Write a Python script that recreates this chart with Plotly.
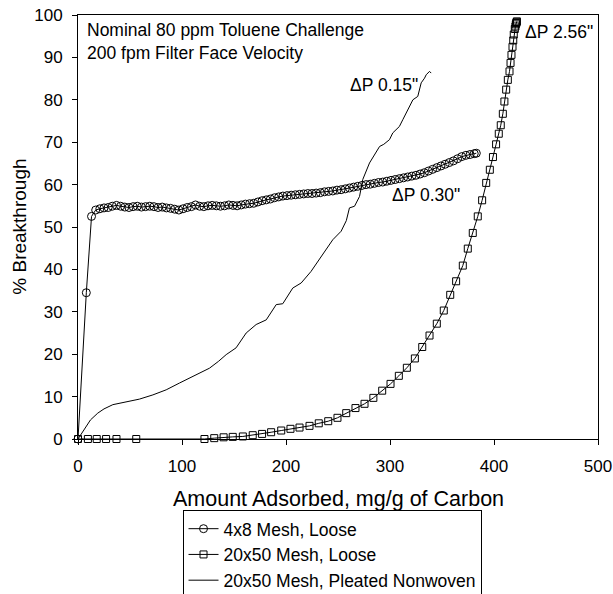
import plotly.graph_objects as go

# 4x8 Mesh, Loose (open circles)
mesh4x8_x = [0, 8, 13, 17, 21, 25, 29, 33, 37, 41, 45, 49, 53, 57, 61, 65, 69, 73, 77, 81, 85,
             89, 93, 97, 101, 105, 109, 113, 117, 121, 125, 129, 133, 137, 141, 145, 149, 153,
             157, 161, 165, 169, 173, 177, 181, 185, 189, 193, 197, 201, 205, 209, 213, 217,
             221, 225, 229, 233, 237, 241, 245, 249, 253, 257, 261, 265, 269, 273, 277, 281,
             285, 289, 293, 297, 301, 305, 309, 313, 317, 321, 325, 329, 333, 337, 341, 345,
             349, 353, 357, 361, 365, 369, 373, 377, 381, 383]
mesh4x8_y = [0, 34.5, 52.5, 54.0, 54.3, 54.5, 54.6, 54.9, 55.1, 54.9, 54.7, 54.6, 54.8, 54.9,
             54.7, 54.8, 54.9, 54.8, 54.6, 54.7, 54.5, 54.4, 54.2, 54.0, 54.3, 54.6, 54.8, 55.2,
             54.9, 54.8, 55.0, 55.1, 55.0, 54.9, 55.0, 55.2, 55.1, 55.0, 55.2, 55.4, 55.5, 55.6,
             55.9, 56.2, 56.4, 56.6, 56.9, 57.1, 57.3, 57.4, 57.5, 57.6, 57.7, 57.8, 57.9, 57.9,
             58.0, 58.1, 58.3, 58.4, 58.5, 58.7, 58.8, 59.0, 59.2, 59.4, 59.6, 59.8, 60.0, 60.1,
             60.3, 60.5, 60.6, 60.8, 61.0, 61.2, 61.4, 61.6, 61.8, 62.0, 62.2, 62.5, 62.8, 63.2,
             63.6, 64.0, 64.4, 64.8, 65.2, 65.6, 66.1, 66.6, 66.9, 67.1, 67.3, 67.4]

# 20x50 Mesh, Loose (open squares)
mesh20x50_x = [0, 9.5, 18, 27, 37, 56, 121.6, 131, 140, 148.8, 158.5, 168, 177, 185.7, 195.4,
               204.3, 213, 222.6, 231.5, 240.6, 249.5, 257.9, 266.8, 275.5, 284, 292.5, 300.5,
               308.5, 316.2, 323.9, 331, 338, 345, 351.7, 357.9, 363.6, 370, 374.8, 379.6, 384.4,
               388.6, 392.5, 396, 399, 402, 404.6, 406.5, 408.5, 410, 411.7, 413.3, 414.9, 415.9,
               416.8, 417.8, 418.5, 419, 420, 420.6, 421, 421.4, 421.7, 422]
mesh20x50_y = [0, 0, 0, 0, 0, 0, 0, 0.2, 0.4, 0.5, 0.6, 0.9, 1.2, 1.6, 2.0, 2.4, 2.7, 3.1, 3.7,
               4.2, 5.0, 6.1, 7.3, 8.3, 9.7, 11.4, 13.0, 14.9, 16.8, 19.0, 21.7, 24.4, 27.2, 30.3,
               34.0, 37.2, 40.9, 44.9, 48.6, 52.5, 56.3, 60.4, 63.5, 66.5, 69.5, 72.0, 74.0, 76.7,
               79.6, 82.4, 84.7, 86.7, 88.7, 90.6, 92.5, 94.0, 95.4, 96.7, 97.3, 97.8, 98.1, 98.3,
               98.5]

# 20x50 Mesh, Pleated Nonwoven (line only)
pleated_x = [0, 4, 8, 12, 19, 25, 33.5, 45, 59, 72, 84.8, 97.6, 107, 116.8, 126.4, 135, 142.5,
             152, 161.7, 171.3, 181, 190.6, 196.9, 206.5, 214.6, 224, 232, 240, 245, 253, 258,
             261, 265.9, 270.7, 273.8, 280.3, 285, 290, 294, 299.5, 302.7, 306, 309, 312.3,
             315.6, 318.8, 322, 326.7, 328.4, 330, 333.2, 334.8, 338, 339.6]
pleated_y = [0, 1.5, 3, 4.5, 6.1, 7.1, 8.1, 8.7, 9.4, 10.4, 11.6, 13.2, 14.3, 15.6, 16.7, 18.3,
             19.9, 21.5, 25, 27, 28.1, 31.7, 31.9, 35.6, 36.8, 39.5, 42.3, 45, 47, 49, 51.5, 54.5,
             54.9, 57.2, 61.2, 65.1, 67, 69, 69.5, 70.6, 72.2, 73, 73.7, 75.3, 76.9, 78.4, 80,
             80.8, 82.4, 84, 85.1, 85.9, 86.7, 86.3]

series_names = ["4x8 Mesh, Loose", "20x50 Mesh, Loose", "20x50 Mesh, Pleated Nonwoven"]
x_ticks = [0, 100, 200, 300, 400, 500]
y_ticks = [0, 10, 20, 30, 40, 50, 60, 70, 80, 90, 100]

FONT = "Liberation Sans, Arial, sans-serif"

fig = go.Figure()
fig.add_trace(go.Scatter(
    x=mesh4x8_x, y=mesh4x8_y, name=series_names[0], mode="lines+markers",
    line=dict(color="black", width=1),
    marker=dict(symbol="circle-open", size=8, color="black", line=dict(width=1, color="black")),
    cliponaxis=False))
fig.add_trace(go.Scatter(
    x=mesh20x50_x, y=mesh20x50_y, name=series_names[1], mode="lines+markers",
    line=dict(color="black", width=1),
    marker=dict(symbol="square-open", size=7, color="black", line=dict(width=1, color="black")),
    cliponaxis=False))
fig.add_trace(go.Scatter(
    x=pleated_x, y=pleated_y, name=series_names[2], mode="lines",
    line=dict(color="black", width=1), cliponaxis=False))

annots = [
    dict(x=7.2, y=96.5, text="Nominal 80 ppm Toluene Challenge", size=17.5),
    dict(x=7.2, y=91.1, text="200 fpm Filter Face Velocity", size=17.5),
    dict(x=260, y=83.6, text="ΔP 0.15\"", size=17.5),
    dict(x=427.5, y=96.1, text="ΔP 2.56\"", size=17.5),
    dict(x=300, y=57.6, text="ΔP 0.30\"", size=17.5),
]
for a in annots:
    fig.add_annotation(x=a["x"], y=a["y"], xref="x", yref="y", text=a["text"],
                       showarrow=False, xanchor="left", yanchor="middle",
                       font=dict(family=FONT, size=a["size"], color="black"))

fig.add_annotation(x=0.5, y=-0.141, xref="paper", yref="paper",
                   text="Amount Adsorbed, mg/g of Carbon", showarrow=False,
                   xanchor="center", yanchor="middle",
                   font=dict(family=FONT, size=21.5, color="black"))
fig.add_annotation(x=-0.114, y=0.5, xref="paper", yref="paper",
                   text="% Breakthrough", showarrow=False, textangle=-90,
                   xanchor="center", yanchor="middle",
                   font=dict(family=FONT, size=19, color="black"))

axis_common = dict(showgrid=False, zeroline=False, showline=True, linecolor="black",
                   linewidth=1, mirror=True, ticks="outside", ticklen=5, tickcolor="black",
                   tickwidth=1, tickfont=dict(family=FONT, size=17, color="black"))
fig.update_xaxes(range=[0, 500], tickvals=x_ticks, ticklabelstandoff=7, **axis_common)
fig.update_yaxes(range=[0, 100], tickvals=y_ticks, ticklabelstandoff=6, **axis_common)

fig.update_layout(
    width=613, height=594,
    margin=dict(l=78, r=15, t=15, b=155, autoexpand=False),
    plot_bgcolor="white", paper_bgcolor="white",
    font=dict(family=FONT, color="black"),
    legend=dict(x=0.201, y=-0.167, xanchor="left", yanchor="top",
                bordercolor="black", borderwidth=1, bgcolor="white",
                font=dict(family=FONT, size=17.5, color="black"),
                itemwidth=30, tracegroupgap=0),
    showlegend=True,
)

fig.write_html("out.html")
